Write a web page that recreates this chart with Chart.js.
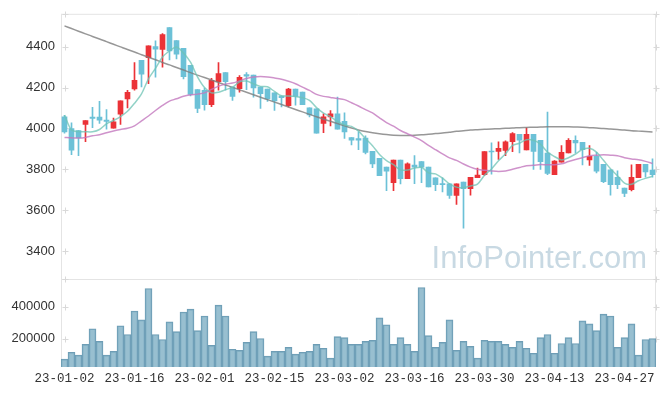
<!DOCTYPE html>
<html lang="ko">
<head>
  <meta charset="UTF-8" />
  <title>Candle chart</title>
  <style>
    body { margin: 0; background: #fff; }
    canvas { display: block; }
  </style>
</head>
<body>
  <canvas id="chart" width="665" height="396"></canvas>

  <script src="https://cdn.jsdelivr.net/npm/chart.js"></script>
  <script>
    const dates = [
      "23-01-02","23-01-03","23-01-04","23-01-05","23-01-06","23-01-09","23-01-10","23-01-11","23-01-12","23-01-13",
      "23-01-16","23-01-17","23-01-18","23-01-19","23-01-20","23-01-25","23-01-26","23-01-27","23-01-30","23-01-31",
      "23-02-01","23-02-02","23-02-03","23-02-06","23-02-07","23-02-08","23-02-09","23-02-10","23-02-13","23-02-14",
      "23-02-15","23-02-16","23-02-17","23-02-20","23-02-21","23-02-22","23-02-23","23-02-24","23-02-27","23-02-28",
      "23-03-02","23-03-03","23-03-06","23-03-07","23-03-08","23-03-09","23-03-10","23-03-13","23-03-14","23-03-15",
      "23-03-16","23-03-17","23-03-20","23-03-21","23-03-22","23-03-23","23-03-24","23-03-27","23-03-28","23-03-29",
      "23-03-30","23-03-31","23-04-03","23-04-04","23-04-05","23-04-06","23-04-07","23-04-10","23-04-11","23-04-12",
      "23-04-13","23-04-14","23-04-17","23-04-18","23-04-19","23-04-20","23-04-21","23-04-24","23-04-25","23-04-26",
      "23-04-27","23-04-28","23-05-02","23-05-03","23-05-04"
    ];

    const opens = [
      4057, 3999, 3990, 4020, 4056, 4056, 4041, 4001, 4070, 4145,
      4193, 4333, 4346, 4401, 4387, 4493, 4430, 4392, 4309, 4190,
      4187, 4117, 4229, 4274, 4203, 4195, 4264, 4261, 4203, 4193,
      4174, 4159, 4112, 4193, 4178, 4101, 4096, 4025, 4056, 4072,
      4035, 3956, 3951, 3953, 3888, 3854, 3811, 3735, 3845, 3754,
      3821, 3838, 3811, 3758, 3729, 3729, 3672, 3738, 3706, 3759,
      3774, 3888, 3888, 3892, 3935, 3971, 3895, 3971, 3942, 3879,
      3774, 3835, 3880, 3942, 3932, 3846, 3864, 3825, 3798, 3761,
      3708, 3701, 3759, 3825, 3796
    ];
    const highs = [
      4064, 4028, 3990, 4038, 4104, 4133, 4093, 4051, 4135, 4187,
      4322, 4333, 4404, 4429, 4464, 4493, 4430, 4392, 4309, 4190,
      4198, 4245, 4322, 4274, 4203, 4259, 4274, 4261, 4203, 4193,
      4174, 4159, 4196, 4193, 4178, 4101, 4096, 4072, 4088, 4153,
      4077, 3956, 3984, 3964, 3888, 3854, 3811, 3845, 3845, 3832,
      3867, 3838, 3811, 3758, 3758, 3729, 3729, 3738, 3761, 3806,
      3887, 3930, 3935, 3940, 3980, 3971, 4003, 3971, 3942, 4080,
      3843, 3916, 3951, 3964, 3932, 3916, 3883, 3825, 3798, 3793,
      3708, 3822, 3825, 3825, 3851
    ];
    const lows = [
      3977, 3872, 3867, 3935, 4004, 4025, 3996, 4001, 4020, 4101,
      4187, 4203, 4219, 4251, 4300, 4335, 4340, 4243, 4159, 4077,
      4090, 4107, 4187, 4187, 4137, 4178, 4190, 4153, 4098, 4132,
      4088, 4106, 4106, 4114, 4116, 4056, 3977, 3980, 4012, 3996,
      3951, 3920, 3896, 3875, 3808, 3769, 3696, 3696, 3729, 3754,
      3730, 3735, 3714, 3696, 3690, 3658, 3628, 3512, 3674, 3759,
      3770, 3777, 3848, 3867, 3887, 3880, 3895, 3800, 3800, 3774,
      3774, 3835, 3880, 3880, 3822, 3819, 3783, 3735, 3674, 3706,
      3666, 3695, 3759, 3762, 3762
    ];
    const closes = [
      3983, 3894, 3954, 4038, 4049, 4040, 4035, 4033, 4135, 4177,
      4235, 4266, 4404, 4388, 4459, 4379, 4364, 4253, 4167, 4098,
      4117, 4235, 4269, 4229, 4157, 4250, 4256, 4198, 4170, 4145,
      4135, 4151, 4193, 4157, 4117, 4066, 3977, 4057, 4072, 3996,
      3983, 3943, 3943, 3883, 3827, 3769, 3791, 3845, 3754, 3827,
      3811, 3811, 3714, 3725, 3725, 3672, 3729, 3706, 3761, 3772,
      3887, 3885, 3903, 3935, 3975, 3943, 3971, 3888, 3838, 3780,
      3840, 3883, 3942, 3929, 3896, 3864, 3791, 3740, 3725, 3725,
      3682, 3761, 3825, 3787, 3774
    ];

    const ma5 = [
      4065, 3992, 3985, 3984, 3984, 3995, 4023, 4039, 4058, 4084,
      4123, 4169, 4243, 4294, 4350, 4379, 4399, 4369, 4324, 4252,
      4200, 4174, 4177, 4190, 4201, 4228, 4232, 4218, 4206, 4204,
      4181, 4160, 4159, 4156, 4151, 4137, 4102, 4075, 4058, 4034,
      4017, 4010, 3987, 3950, 3916, 3873, 3843, 3823, 3797, 3797,
      3806, 3810, 3783, 3778, 3757, 3729, 3713, 3711, 3719, 3728,
      3771, 3802, 3842, 3876, 3917, 3928, 3945, 3942, 3923, 3884,
      3863, 3846, 3857, 3875, 3898, 3903, 3884, 3844, 3803, 3769,
      3733, 3727, 3744, 3756, 3766
    ];
    const ma20 = [
      3956, 3954, 3953, 3956, 3964, 3969, 3979, 3988, 3995, 4001,
      4013, 4037, 4061, 4088, 4113, 4134, 4145, 4158, 4165, 4168,
      4174, 4191, 4207, 4217, 4222, 4233, 4244, 4252, 4254, 4252,
      4247, 4241, 4231, 4219, 4202, 4186, 4167, 4157, 4152, 4147,
      4141, 4126, 4110, 4092, 4076, 4052, 4029, 4011, 3990, 3974,
      3958, 3941, 3917, 3896, 3876, 3856, 3844, 3826, 3811, 3800,
      3795, 3792, 3790, 3792, 3800, 3809, 3818, 3820, 3824, 3822,
      3823, 3827, 3838, 3848, 3857, 3866, 3869, 3871, 3869, 3867,
      3857, 3851, 3847, 3839, 3829
    ];
    const ma60 = [
      4502, 4489, 4476, 4463, 4450, 4438, 4425, 4412, 4399, 4386,
      4374, 4361, 4348, 4336, 4323, 4311, 4298, 4286, 4273, 4261,
      4249, 4237, 4225, 4213, 4201, 4189, 4177, 4165, 4153, 4141,
      4129, 4117, 4105, 4093, 4081, 4069, 4057, 4046, 4035, 4024,
      4013, 4002, 3993, 3985, 3979, 3974, 3970, 3967, 3966, 3966,
      3967, 3969, 3972, 3975, 3978, 3982, 3986, 3989, 3992, 3994,
      3996, 3998, 3999, 4001, 4002, 4004, 4005, 4006, 4007, 4008,
      4008, 4008, 4008, 4007, 4006, 4004, 4002, 4000, 3997, 3995,
      3992, 3989, 3987, 3985, 3983
    ];

    const volumes = [
      71000, 114000, 96000, 163000, 261000, 182000, 96000, 120000, 280000, 225000,
      372000, 317000, 513000, 225000, 194000, 304000, 243000, 366000, 384000, 249000,
      341000, 157000, 409000, 341000, 133000, 126000, 176000, 243000, 200000, 90000,
      120000, 120000, 145000, 102000, 114000, 120000, 163000, 139000, 77000, 212000,
      206000, 163000, 163000, 182000, 188000, 329000, 286000, 163000, 206000, 163000,
      120000, 519000, 218000, 145000, 176000, 317000, 126000, 182000, 151000, 77000,
      188000, 182000, 182000, 163000, 145000, 182000, 139000, 108000, 206000, 225000,
      108000, 169000, 206000, 169000, 310000, 292000, 249000, 353000, 341000, 145000,
      206000, 292000, 96000, 194000, 200000
    ];

    const priceTicks = [3400, 3600, 3800, 4000, 4200, 4400];
    const volumeTicks = [200000, 400000];

    const upColor = '#eb3237';
    const downColor = '#6cc1d7';
    const candleColors = closes.map((c, i) => c >= opens[i] ? upColor : downColor);

    // frame, "+" grid marks and the watermark
    const framePlugin = {
      id: 'frame',
      beforeDatasetsDraw(chart) {
        const { ctx, chartArea: a, scales } = chart;
        const x = scales.x, y = scales.y, yv = scales.yv;
        ctx.save();
        ctx.beginPath();
        ctx.rect(a.left - 4, a.top - 4, a.width + 8, a.height + 8);
        ctx.clip();

        ctx.font = '31px "Liberation Sans", Arial, sans-serif';
        ctx.fillStyle = '#c8d9e3';
        ctx.textAlign = 'right';
        ctx.textBaseline = 'alphabetic';
        ctx.fillText('InfoPointer.com', a.right - 9, y.bottom - 11);

        ctx.strokeStyle = '#e4e4e4';
        ctx.lineWidth = 1;
        ctx.beginPath();
        ctx.moveTo(a.left + 0.5, a.top + 0.5);
        ctx.lineTo(a.right - 0.5, a.top + 0.5);
        ctx.moveTo(a.left + 0.5, a.top);
        ctx.lineTo(a.left + 0.5, a.bottom);
        ctx.moveTo(a.right - 0.5, a.top);
        ctx.lineTo(a.right - 0.5, a.bottom);
        ctx.moveTo(a.left, Math.round(y.bottom) + 0.5);
        ctx.lineTo(a.right, Math.round(y.bottom) + 0.5);
        ctx.stroke();

        const cols = [];
        for (let i = 0; i < dates.length; i += 10) cols.push(x.getPixelForTick(i));
        cols.push(a.right - 0.5);
        const rows = [y.top, y.bottom];
        priceTicks.forEach(v => rows.push(y.getPixelForValue(v)));
        volumeTicks.forEach(v => rows.push(yv.getPixelForValue(v)));

        ctx.strokeStyle = '#d9d9d9';
        ctx.beginPath();
        cols.forEach(cx => {
          rows.forEach(cy => {
            const px = Math.round(cx) + 0.5, py = Math.round(cy) + 0.5;
            ctx.moveTo(px - 3, py);
            ctx.lineTo(px + 3, py);
            ctx.moveTo(px, py - 3);
            ctx.lineTo(px, py + 3);
          });
        });
        ctx.stroke();
        ctx.restore();
      },
      afterDraw(chart) {
        // clear stray marks in the empty strip left of the tick labels
        const { ctx } = chart;
        ctx.save();
        ctx.fillStyle = '#fff';
        ctx.fillRect(0, 0, 8, chart.height);
        ctx.restore();
      }
    };

    const tickFont = { family: '"Liberation Sans", Arial, sans-serif', size: 13 };

    new Chart(document.getElementById('chart'), {
      type: 'bar',
      data: {
        labels: dates,
        datasets: [
          {
            type: 'line', label: 'MA5', data: ma5, yAxisID: 'y',
            borderColor: 'rgba(110,195,180,0.75)', borderWidth: 1.5,
            pointRadius: 0, tension: 0.3, order: 0
          },
          {
            type: 'line', label: 'MA20', data: ma20, yAxisID: 'y',
            borderColor: 'rgba(195,120,190,0.8)', borderWidth: 1.5,
            pointRadius: 0, tension: 0.3, order: 0
          },
          {
            type: 'line', label: 'MA60', data: ma60, yAxisID: 'y',
            borderColor: 'rgba(125,125,125,0.8)', borderWidth: 1.5,
            pointRadius: 0, tension: 0.3, order: 0
          },
          {
            label: 'body', data: opens.map((o, i) => [o, closes[i]]), yAxisID: 'y',
            backgroundColor: candleColors, barThickness: 5, minBarLength: 1,
            grouped: false, order: 1
          },
          {
            label: 'wick', data: lows.map((l, i) => [l, highs[i]]), yAxisID: 'y',
            backgroundColor: candleColors, barThickness: 1,
            grouped: false, order: 2
          },
          {
            label: 'volume', data: volumes, yAxisID: 'yv',
            backgroundColor: 'rgba(126,175,196,0.8)',
            borderColor: 'rgba(85,140,168,0.85)', borderWidth: 1,
            categoryPercentage: 1, barPercentage: 1,
            grouped: false, order: 3
          }
        ]
      },
      options: {
        responsive: false,
        animation: false,
        layout: { padding: { top: 10, right: 9, left: 0, bottom: 0 } },
        plugins: { legend: { display: false }, tooltip: { enabled: false } },
        scales: {
          x: {
            offset: true,
            grid: { display: false, drawTicks: false },
            border: { display: false },
            ticks: {
              autoSkip: false, maxRotation: 0, minRotation: 0, padding: 4,
              color: '#333',
              font: { family: '"Liberation Mono", monospace', size: 12.5 },
              callback: (v, i) => i % 10 === 0 ? dates[i] : null
            },
            afterFit: s => { s.height = 29; }
          },
          // left axes are placed in reverse order, so the volume axis comes first
          yv: {
            position: 'left', stack: 'main', stackWeight: 1,
            min: 22000, max: 574000,
            grid: { display: false, drawTicks: false },
            border: { display: false },
            ticks: {
              autoSkip: false, padding: 6, color: '#333', font: tickFont,
              callback: v => String(v)
            },
            afterBuildTicks: s => { s.ticks = volumeTicks.map(v => ({ value: v })); },
            afterFit: s => { s.width = 61; }
          },
          y: {
            position: 'left', stack: 'main', stackWeight: 3,
            min: 3265, max: 4561,
            grid: { display: false, drawTicks: false },
            border: { display: false },
            ticks: {
              autoSkip: false, padding: 6, color: '#333', font: tickFont,
              callback: v => String(v)
            },
            afterBuildTicks: s => { s.ticks = priceTicks.map(v => ({ value: v })); },
            afterFit: s => { s.width = 61; }
          }
        }
      },
      plugins: [framePlugin]
    });
  </script>
</body>
</html>
